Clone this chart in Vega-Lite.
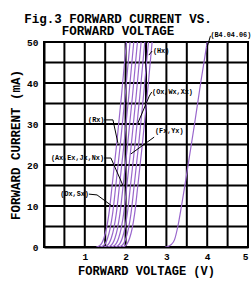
{
  "$schema": "https://vega.github.io/schema/vega-lite/v6.json",
  "width": 204,
  "height": 205,
  "autosize": "none",
  "padding": {"left": 44, "top": 42, "right": 4, "bottom": 34},
  "background": "white",
  "title": {
    "text": ["Fig.3 FORWARD CURRENT VS.", "FORWARD VOLTAGE"],
    "anchor": "middle",
    "dx": -28,
    "offset": -6,
    "font": "Liberation Mono",
    "fontSize": 12.5,
    "fontWeight": "bold",
    "lineHeight": 12.5,
    "color": "black"
  },
  "config": {
    "view": {"stroke": "black", "strokeWidth": 2},
    "axis": {
      "domainColor": "black",
      "domainWidth": 2,
      "grid": false,
      "ticks": false,
      "labelFont": "Liberation Mono",
      "labelFontWeight": "bold",
      "labelFontSize": 9.5,
      "labelColor": "black",
      "titleFont": "Liberation Mono",
      "titleFontWeight": "bold",
      "titleColor": "black"
    }
  },
  "datasets": {
    "gridx": [{"g": 0.5}, {"g": 1}, {"g": 1.5}, {"g": 2}, {"g": 2.5}, {"g": 3}, {"g": 3.5}, {"g": 4}, {"g": 4.5}],
    "gridy": [{"g": 5}, {"g": 10}, {"g": 15}, {"g": 20}, {"g": 25}, {"g": 30}, {"g": 35}, {"g": 40}, {"g": 45}],
    "curves": [
      {"s": "a", "v": 1.28, "i": 0}, {"s": "a", "v": 1.36, "i": 0.3}, {"s": "a", "v": 1.42, "i": 1}, {"s": "a", "v": 1.47, "i": 2.2}, {"s": "a", "v": 1.53, "i": 4.5}, {"s": "a", "v": 1.59, "i": 8}, {"s": "a", "v": 1.67, "i": 15}, {"s": "a", "v": 1.78, "i": 25}, {"s": "a", "v": 1.90, "i": 37}, {"s": "a", "v": 2.02, "i": 50},
      {"s": "b", "v": 1.37, "i": 0}, {"s": "b", "v": 1.45, "i": 0.3}, {"s": "b", "v": 1.51, "i": 1}, {"s": "b", "v": 1.56, "i": 2.2}, {"s": "b", "v": 1.62, "i": 4.5}, {"s": "b", "v": 1.68, "i": 8}, {"s": "b", "v": 1.76, "i": 15}, {"s": "b", "v": 1.87, "i": 25}, {"s": "b", "v": 1.99, "i": 37}, {"s": "b", "v": 2.11, "i": 50},
      {"s": "c", "v": 1.46, "i": 0}, {"s": "c", "v": 1.54, "i": 0.3}, {"s": "c", "v": 1.60, "i": 1}, {"s": "c", "v": 1.65, "i": 2.2}, {"s": "c", "v": 1.71, "i": 4.5}, {"s": "c", "v": 1.77, "i": 8}, {"s": "c", "v": 1.85, "i": 15}, {"s": "c", "v": 1.96, "i": 25}, {"s": "c", "v": 2.08, "i": 37}, {"s": "c", "v": 2.20, "i": 50},
      {"s": "d", "v": 1.55, "i": 0}, {"s": "d", "v": 1.63, "i": 0.3}, {"s": "d", "v": 1.69, "i": 1}, {"s": "d", "v": 1.74, "i": 2.2}, {"s": "d", "v": 1.80, "i": 4.5}, {"s": "d", "v": 1.86, "i": 8}, {"s": "d", "v": 1.94, "i": 15}, {"s": "d", "v": 2.05, "i": 25}, {"s": "d", "v": 2.17, "i": 37}, {"s": "d", "v": 2.29, "i": 50},
      {"s": "e", "v": 1.64, "i": 0}, {"s": "e", "v": 1.72, "i": 0.3}, {"s": "e", "v": 1.78, "i": 1}, {"s": "e", "v": 1.83, "i": 2.2}, {"s": "e", "v": 1.89, "i": 4.5}, {"s": "e", "v": 1.95, "i": 8}, {"s": "e", "v": 2.03, "i": 15}, {"s": "e", "v": 2.14, "i": 25}, {"s": "e", "v": 2.26, "i": 37}, {"s": "e", "v": 2.38, "i": 50},
      {"s": "f", "v": 1.73, "i": 0}, {"s": "f", "v": 1.81, "i": 0.3}, {"s": "f", "v": 1.87, "i": 1}, {"s": "f", "v": 1.92, "i": 2.2}, {"s": "f", "v": 1.98, "i": 4.5}, {"s": "f", "v": 2.04, "i": 8}, {"s": "f", "v": 2.12, "i": 15}, {"s": "f", "v": 2.23, "i": 25}, {"s": "f", "v": 2.35, "i": 37}, {"s": "f", "v": 2.47, "i": 50},
      {"s": "g", "v": 1.82, "i": 0}, {"s": "g", "v": 1.90, "i": 0.3}, {"s": "g", "v": 1.96, "i": 1}, {"s": "g", "v": 2.01, "i": 2.2}, {"s": "g", "v": 2.07, "i": 4.5}, {"s": "g", "v": 2.13, "i": 8}, {"s": "g", "v": 2.21, "i": 15}, {"s": "g", "v": 2.32, "i": 25}, {"s": "g", "v": 2.44, "i": 37}, {"s": "g", "v": 2.56, "i": 50},
      {"s": "h", "v": 1.91, "i": 0}, {"s": "h", "v": 1.99, "i": 0.3}, {"s": "h", "v": 2.05, "i": 1}, {"s": "h", "v": 2.10, "i": 2.2}, {"s": "h", "v": 2.16, "i": 4.5}, {"s": "h", "v": 2.22, "i": 8}, {"s": "h", "v": 2.30, "i": 15}, {"s": "h", "v": 2.41, "i": 25}, {"s": "h", "v": 2.53, "i": 37}, {"s": "h", "v": 2.65, "i": 50},
      {"s": "B4", "v": 2.97, "i": 0}, {"s": "B4", "v": 3.05, "i": 0.2}, {"s": "B4", "v": 3.12, "i": 0.6}, {"s": "B4", "v": 3.20, "i": 1.8}, {"s": "B4", "v": 3.28, "i": 5}, {"s": "B4", "v": 3.37, "i": 10}, {"s": "B4", "v": 3.50, "i": 18}, {"s": "B4", "v": 3.69, "i": 30}, {"s": "B4", "v": 3.84, "i": 40}, {"s": "B4", "v": 4.00, "i": 50}
    ],
    "leaders": [
      {"k": "Rx", "o": 1, "v": 1.47, "i": 31.0}, {"k": "Rx", "o": 2, "v": 1.69, "i": 31.0}, {"k": "Rx", "o": 3, "v": 1.81, "i": 25.4},
      {"k": "Ax", "o": 1, "v": 1.47, "i": 21.7}, {"k": "Ax", "o": 2, "v": 1.64, "i": 21.7}, {"k": "Ax", "o": 3, "v": 1.94, "i": 14.9},
      {"k": "Dx", "o": 1, "v": 1.10, "i": 12.9}, {"k": "Dx", "o": 2, "v": 1.30, "i": 12.7}, {"k": "Dx", "o": 3, "v": 1.64, "i": 10.2},
      {"k": "Fx", "o": 1, "v": 2.70, "i": 26.8}, {"k": "Fx", "o": 2, "v": 2.13, "i": 22.7},
      {"k": "Ox", "o": 1, "v": 2.64, "i": 37.8}, {"k": "Ox", "o": 2, "v": 2.58, "i": 36.8}, {"k": "Ox", "o": 3, "v": 2.30, "i": 30.2},
      {"k": "Hx", "o": 1, "v": 2.65, "i": 47.8}, {"k": "Hx", "o": 2, "v": 2.57, "i": 46.8},
      {"k": "B4", "o": 1, "v": 4.08, "i": 51.5}, {"k": "B4", "o": 2, "v": 4.0, "i": 48.8}
    ],
    "labels": [
      {"t": "(Hx)", "v": 2.67, "i": 47.8},
      {"t": "(Ox,Wx,Xx)", "v": 2.65, "i": 37.8},
      {"t": "(Fx,Yx)", "v": 2.72, "i": 28.3},
      {"t": "(Rx)", "v": 1.08, "i": 31.0},
      {"t": "(Ax,Ex,Jx,Nx)", "v": 0.17, "i": 21.7},
      {"t": "(Dx,Sx)", "v": 0.40, "i": 12.9},
      {"t": "(B4.04.06)", "v": 4.08, "i": 51.8}
    ]
  },
  "layer": [
    {
      "data": {"name": "gridx"},
      "mark": {"type": "rule", "color": "black", "strokeWidth": 2},
      "encoding": {
        "x": {"field": "g", "type": "quantitative"}
      }
    },
    {
      "data": {"name": "gridy"},
      "mark": {"type": "rule", "color": "black", "strokeWidth": 2},
      "encoding": {
        "y": {"field": "g", "type": "quantitative"}
      }
    },
    {
      "data": {"name": "curves"},
      "mark": {"type": "line", "color": "#9966cc", "strokeWidth": 1.2, "interpolate": "monotone", "clip": true},
      "encoding": {
        "x": {
          "field": "v", "type": "quantitative",
          "scale": {"domain": [0, 5], "nice": false},
          "axis": {
            "values": [1, 2, 3, 4, 5],
            "labelPadding": 4,
            "title": "FORWARD VOLTAGE (V)",
            "titleFontSize": 12,
            "titlePadding": 5
          }
        },
        "y": {
          "field": "i", "type": "quantitative",
          "scale": {"domain": [0, 50], "nice": false},
          "axis": {
            "values": [0, 10, 20, 30, 40, 50],
            "labelPadding": 6,
            "title": "FORWARD CURRENT (mA)",
            "titleFontSize": 12.5,
            "titlePadding": 4
          }
        },
        "detail": {"field": "s"}
      }
    },
    {
      "data": {"name": "leaders"},
      "mark": {"type": "line", "color": "black", "strokeWidth": 1},
      "encoding": {
        "x": {"field": "v", "type": "quantitative"},
        "y": {"field": "i", "type": "quantitative"},
        "detail": {"field": "k"},
        "order": {"field": "o"}
      }
    },
    {
      "data": {"name": "labels"},
      "mark": {"type": "text", "align": "left", "baseline": "middle", "font": "Liberation Mono", "fontWeight": "bold", "fontSize": 6.8, "color": "black"},
      "encoding": {
        "x": {"field": "v", "type": "quantitative"},
        "y": {"field": "i", "type": "quantitative"},
        "text": {"field": "t"}
      }
    }
  ]
}
